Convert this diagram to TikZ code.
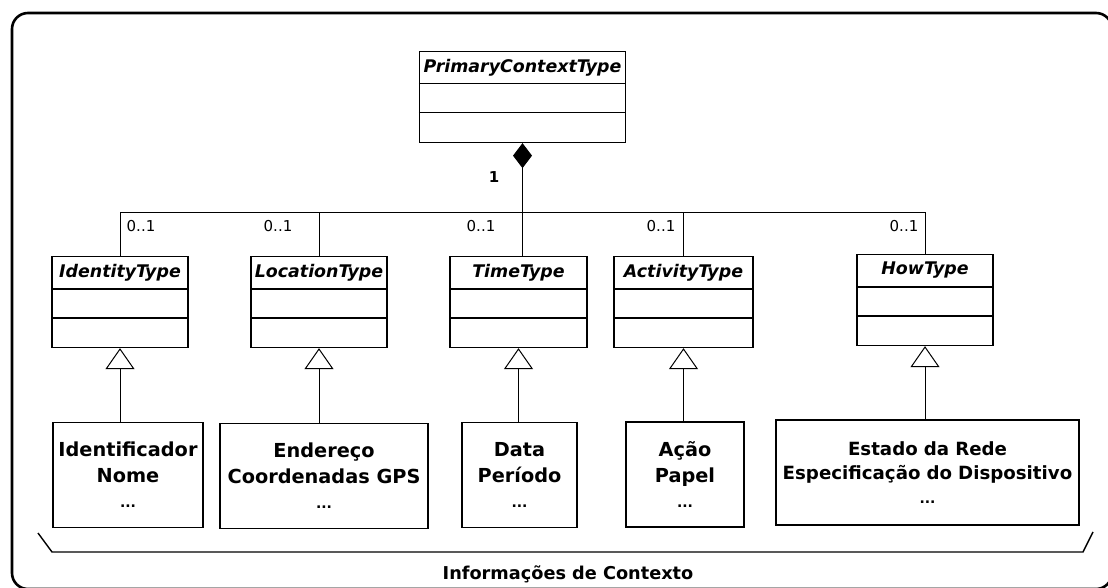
\documentclass[tikz,border=0pt]{standalone}
\usepackage{fontspec}
\setmainfont{DejaVu Sans}
\usetikzlibrary{arrows.meta}

% UML class box with name compartment and two empty compartments
\newcommand\umlcls[5]{%
  \node[classbox, minimum width=#4] (#1) at (#2,#3) {};
  \node[classname] (#1-name) at ([yshift=-16.5pt]#1.north) {#5};
  \draw[divider] ([yshift=-33pt]#1.north west) -- ([yshift=-33pt]#1.north east);
  \draw[divider] ([yshift=-62pt]#1.north west) -- ([yshift=-62pt]#1.north east);
}
% trailing ellipsis line inside the information boxes
\newcommand\moredots{{\fontsize{14}{25}\selectfont ...}}

\begin{document}
\begin{tikzpicture}[x=1pt,y=-1pt,
  classbox/.style={draw, line width=1.3pt, fill=white, minimum height=91pt, inner sep=0pt},
  classname/.style={font=\fontsize{17.4}{20}\selectfont\bfseries\itshape, inner sep=0pt},
  divider/.style={line width=1.3pt},
  infobox/.style={draw, line width=1.4pt, minimum height=105pt, align=center, inner sep=0pt,
    font=\fontsize{19.3}{25.5}\selectfont\bfseries},
  conn/.style={line width=1pt},
  mult/.style={font=\fontsize{15}{17}\selectfont, inner sep=0pt},
  outerframe/.style={line width=2.6pt, rounded corners=16pt},
  bracket/.style={line width=1.4pt},
  gen/.style={conn, -{Triangle[open, length=21pt, width=29pt, fill=white]}},
  agg/.style={conn, {Diamond[length=25pt, width=19pt]}-},
]
\useasboundingbox (0,0) rectangle (1108,588);

% outer frame (right and lower edges run off the page)
\draw[outerframe] (12,13) rectangle (1112,589);

% class boxes
\umlcls{pc}{522.5}{97}{206pt}{PrimaryContextType}
\umlcls{id}{120}{302}{136pt}{IdentityType}
\umlcls{lc}{319}{302}{136pt}{LocationType}
\umlcls{tm}{518.5}{302}{137pt}{TimeType}
\umlcls{ac}{683.5}{302}{139pt}{ActivityType}
\umlcls{hw}{925}{300}{136pt}{HowType}

% information boxes
\node[infobox, minimum width=150pt] (idv) at (128,475) {Identificador\\Nome\\\moredots};
\node[infobox, minimum width=208pt] (lcv) at (324,476) {Endereço\\Coordenadas GPS\\\moredots};
\node[infobox, minimum width=115pt] (tmv) at (519.5,475) {Data\\Período\\\moredots};
\node[infobox, minimum width=118pt] (acv) at (685,474.5) {Ação\\Papel\\\moredots};
\node[infobox, minimum width=303pt, text width=300pt, font=\fontsize{18.2}{24}\selectfont\bfseries]
  (hwv) at (927.5,472.5) {Estado da Rede\\Especificação do Dispositivo\\\moredots};

% composition bus
\coordinate (bus) at (0,213);
\draw[agg] (pc.south) -- (pc.south |- tm.north);
\draw[conn] (id.north) -- (id.north |- bus) -- (hw.north |- bus) -- (hw.north);
\draw[conn] (lc.north) -- (lc.north |- bus);
\draw[conn] (ac.north) -- (ac.north |- bus);

% multiplicities
\node[font=\fontsize{15}{18}\selectfont\bfseries, inner sep=0pt] (one) at (494,177) {1};
\node[mult] (m-id) at (141,226) {0..1};
\node[mult] (m-lc) at (278,226) {0..1};
\node[mult] (m-tm) at (481,226) {0..1};
\node[mult] (m-ac) at (661,226) {0..1};
\node[mult] (m-hw) at (904,226) {0..1};

% generalizations
\draw[gen] (id.south |- idv.north) -- (id.south);
\draw[gen] (lc.south |- lcv.north) -- (lc.south);
\draw[gen] (tm.south |- tmv.north) -- (tm.south);
\draw[gen] (ac.south |- acv.north) -- (ac.south);
\draw[gen] (hw.south |- hwv.north) -- (hw.south);

% grouping bracket and caption
\coordinate (brL) at (38,533);
\coordinate (brR) at (1093,532);
\draw[bracket] (brL) -- (52,552) -- (1083,552) -- (brR);
\node[font=\fontsize{17.7}{20}\selectfont\bfseries, inner sep=0pt] (cap) at (568,574) {Informações de Contexto};
\end{tikzpicture}
\end{document}
